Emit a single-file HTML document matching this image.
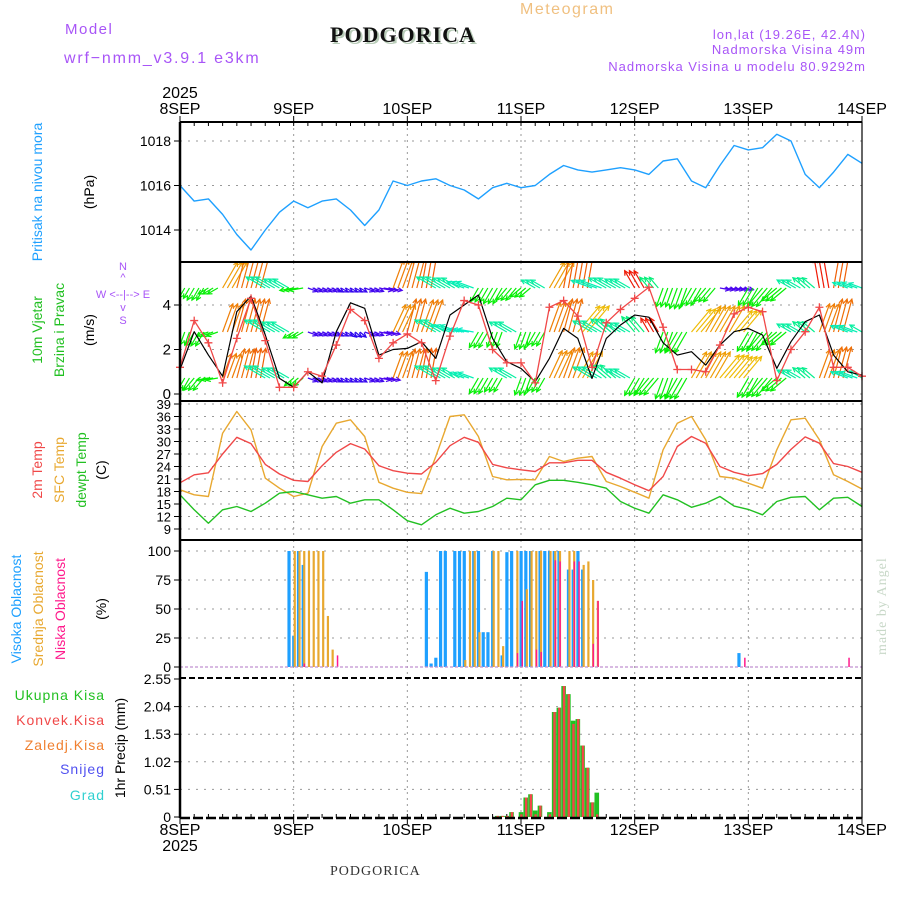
<!DOCTYPE html>
<html><head><meta charset="utf-8"><style>
html,body{margin:0;padding:0;background:#fff;}
svg{display:block;font-family:"Liberation Sans",sans-serif;}
</style></head><body>
<svg id="c" width="900" height="900" viewBox="0 0 900 900" xmlns="http://www.w3.org/2000/svg">
<g>
<text x="65" y="34" font-size="15" fill="#a855f7" letter-spacing="1.5">Model</text>
<text x="64" y="63" font-size="16" fill="#a855f7" letter-spacing="1.8">wrf−nmm_v3.9.1 e3km</text>
<text x="332" y="44" font-size="22" font-weight="bold" font-family="Liberation Serif,serif" fill="#b8ccb8" letter-spacing="1">PODGORICA</text>
<text x="330" y="42" font-size="22" font-weight="bold" font-family="Liberation Serif,serif" fill="#111" letter-spacing="1">PODGORICA</text>
<text x="520" y="14" font-size="16" fill="#f0c080" letter-spacing="1.5">Meteogram</text>
<text x="866" y="39" font-size="13" fill="#a855f7" text-anchor="end" letter-spacing="1">lon,lat (19.26E, 42.4N)</text>
<text x="866" y="54" font-size="13" fill="#a855f7" text-anchor="end" letter-spacing="1">Nadmorska Visina 49m</text>
<text x="866" y="71" font-size="13" fill="#a855f7" text-anchor="end" letter-spacing="1">Nadmorska Visina u modelu 80.9292m</text>
<text x="330" y="875" font-size="14" font-family="Liberation Serif,serif" fill="#333" letter-spacing="1">PODGORICA</text>
<text transform="translate(886,655) rotate(-90)" font-size="14" font-family="Liberation Serif,serif" fill="#c8d8c8" letter-spacing="1">made by Angel</text>
</g>
<g id="labels">
<text transform="translate(42,192) rotate(-90)" font-size="14" fill="#1ea0ff" text-anchor="middle">Pritisak na nivou mora</text>
<text transform="translate(94,192) rotate(-90)" font-size="14" fill="#000" text-anchor="middle">(hPa)</text>
<text transform="translate(42,330) rotate(-90)" font-size="14" fill="#22c022" text-anchor="middle">10m Vjetar</text>
<text transform="translate(64,330) rotate(-90)" font-size="14" fill="#22c022" text-anchor="middle">Brzina i Pravac</text>
<text transform="translate(94,330) rotate(-90)" font-size="14" fill="#000" text-anchor="middle">(m/s)</text>
<g font-size="11" fill="#a855f7" text-anchor="middle">
<text x="123" y="270">N</text><text x="123" y="281">^</text><text x="123" y="298">W   &lt;--|--&gt;   E</text><text x="123" y="311">v</text><text x="123" y="324">S</text>
</g>
<text transform="translate(42,470) rotate(-90)" font-size="14" fill="#f04848" text-anchor="middle">2m Temp</text>
<text transform="translate(64,470) rotate(-90)" font-size="14" fill="#e8a830" text-anchor="middle">SFC Temp</text>
<text transform="translate(86,470) rotate(-90)" font-size="14" fill="#22c022" text-anchor="middle">dewpt Temp</text>
<text transform="translate(106,470) rotate(-90)" font-size="14" fill="#000" text-anchor="middle">(C)</text>
<text transform="translate(21,609) rotate(-90)" font-size="14" fill="#1ea0ff" text-anchor="middle">Visoka Oblacnost</text>
<text transform="translate(43,609) rotate(-90)" font-size="14" fill="#e8a830" text-anchor="middle">Srednja Oblacnost</text>
<text transform="translate(65,609) rotate(-90)" font-size="14" fill="#ff1a8c" text-anchor="middle">Niska Oblacnost</text>
<text transform="translate(106,609) rotate(-90)" font-size="14" fill="#000" text-anchor="middle">(%)</text>
<g font-size="14" text-anchor="end" letter-spacing="1">
<text x="105" y="700" fill="#22c022">Ukupna  Kisa</text>
<text x="105" y="725" fill="#f04848">Konvek.Kisa</text>
<text x="105" y="750" fill="#f08030">Zaledj.Kisa</text>
<text x="105" y="774" fill="#5050f0">Snijeg</text>
<text x="105" y="800" fill="#30d0d0">Grad</text>
</g>
<text transform="translate(125,748) rotate(-90)" font-size="14" fill="#000" text-anchor="middle">1hr Precip (mm)</text>
</g>
</svg>
<script>
// ---- data (3-hourly, hours 0..144 from 8SEP 00) ----
const dayLabels = ["8SEP","9SEP","10SEP","11SEP","12SEP","13SEP","14SEP"];
const pressure = [1016.0,1015.3,1015.4,1014.7,1013.8,1013.1,1014.0,1014.8,1015.3,1015.0,1015.3,1015.4,1014.9,1014.2,1014.9,1016.2,1016.0,1016.2,1016.3,1016.0,1015.8,1015.4,1015.9,1016.1,1015.9,1016.0,1016.5,1016.9,1016.7,1016.6,1016.7,1016.8,1016.7,1016.5,1017.1,1017.2,1016.2,1015.9,1016.9,1017.8,1017.6,1017.7,1018.3,1018.0,1016.5,1015.9,1016.6,1017.4,1017.0];
const windSpeed = [1.1,2.8,1.75,0.8,3.7,4.4,2.65,0.7,0.3,1.0,0.5,2.8,4.1,3.85,1.75,2.0,2.05,2.35,1.6,3.55,4.0,4.45,2.5,1.45,1.15,0.55,1.6,2.95,2.5,0.7,2.5,3.1,3.55,3.45,2.3,1.75,1.9,1.3,2.2,2.8,2.95,2.65,1.15,2.35,3.25,3.55,1.75,1.0,0.85];
const windGust = [1.2,3.3,2.3,0.5,2.5,4.3,2.4,0.3,0.3,1.0,0.8,2.2,3.8,3.3,1.6,2.3,2.7,2.3,0.6,2.6,4.2,4.0,2.0,1.4,1.4,0.5,3.9,4.2,3.5,1.2,3.2,3.8,4.3,4.8,3.0,1.1,1.1,1.0,2.2,3.6,3.9,3.7,0.6,2.0,2.8,3.9,1.2,1.2,0.8];
const dir1 = [210,210,240,30,15,15,300,300,260,110,110,120,120,110,100,20,15,10,300,300,290,210,210,220,230,300,30,10,10,290,300,300,330,320,200,200,210,220,100,100,210,220,230,300,310,350,10,290,290];
const len1 = [12,14,12,30,40,40,22,18,14,10,10,8,8,10,14,30,40,40,22,20,18,16,18,16,14,16,30,40,40,22,20,18,20,14,20,22,20,18,10,10,20,24,20,16,16,30,40,16,14];
const dir2 = [200,210,250,20,15,15,300,300,240,110,110,120,130,110,100,25,15,20,300,290,280,210,200,300,200,210,20,15,40,300,310,300,320,330,200,210,40,30,30,40,210,220,230,300,310,20,15,290,300];
const len2 = [14,16,12,30,34,34,24,20,12,10,10,8,8,10,12,30,34,34,24,20,16,18,16,20,18,16,32,34,34,22,20,18,20,16,22,24,30,30,30,28,22,24,20,16,16,30,34,18,14];
const dir3 = [210,220,260,20,15,10,300,300,230,110,110,120,120,110,100,20,15,10,300,300,290,210,210,300,200,210,25,20,30,300,310,300,210,220,200,210,30,30,40,40,210,220,230,300,310,20,15,290,300];
const len3 = [14,16,12,26,30,30,24,20,12,10,10,8,8,10,12,28,30,30,24,20,16,18,16,20,18,16,30,32,30,22,20,18,20,22,22,24,30,30,30,28,22,24,20,16,16,30,32,18,14];
const temp2m = [20.1,22.0,22.5,27.0,31.0,29.5,24.5,22.2,20.7,20.4,24.2,27.4,29.5,28.2,24.2,23.0,22.4,22.2,25.0,29.0,31.0,29.8,24.5,23.7,23.2,22.8,24.9,24.9,25.5,25.5,22.6,21.2,19.6,18.2,21.6,28.8,31.2,29.6,24.0,22.6,21.8,22.3,24.5,28.1,31.1,29.6,24.7,24.0,22.6];
const tempSfc = [18.4,17.2,16.8,32.0,37.2,32.8,21.2,18.8,16.8,17.6,28.8,34.4,35.2,31.2,20.2,18.8,17.8,17.5,26.4,36.0,36.4,31.2,21.6,20.8,20.9,20.8,26.4,25.2,26.0,26.4,20.4,19.2,17.8,16.4,28.0,34.4,36.0,30.4,21.6,21.2,20.0,18.8,28.0,35.2,35.6,30.4,22.0,20.4,18.6];
const tempDew = [17.2,13.6,10.4,13.6,14.4,13.2,15.2,17.6,18.0,17.2,16.4,16.8,15.2,16.0,16.0,13.6,11.0,10.0,12.4,14.0,12.8,13.2,14.4,16.4,16.0,19.6,20.7,20.7,20.2,19.6,18.8,15.6,14.0,12.8,17.2,16.0,14.2,15.2,16.8,14.5,13.7,12.4,15.6,16.6,16.8,13.6,16.4,16.6,14.4];
// clouds (hourly, hour index / percent)
const highHours = [23,24,25,26,52,53,54,55,56,58,59,60,62,63,64,65,66,68,69,70,72,73,74,76,77,78,79,80,82,83,84,85,118];
const highVals  = [100,27,100,88,82,3,8,100,100,100,100,100,100,100,30,30,100,10,99,100,100,100,100,100,100,100,100,100,84,84,100,84,12];
const midHours = [24,25,26,27,28,29,30,31,32,60,61,62,63,66,67,68,71,73,74,75,76,78,79,80,82,83,85,86,87,88];
const midVals  = [100,100,100,100,100,100,100,44,15,6,100,100,30,100,100,18,100,67,100,100,100,100,100,100,100,100,88,91,75,57];
const lowHours = [26,33,71,72,75,76,79,80,83,84,87,88,119,141];
const lowVals  = [3,10,12,57,15,13,92,91,91,91,20,57,8,8];
// precipitation (hourly)
const precipHours = [67,68,69,70,72,73,74,75,76,78,79,80,81,82,83,84,85,86,87,88];
const precipTotal = [0.02,0.02,0.02,0.09,0.09,0.36,0.42,0.12,0.21,0.09,1.94,2.02,2.42,2.27,1.78,1.81,1.32,0.91,0.27,0.45];
const precipConv  = [0.02,0.02,0.02,0.09,0.05,0.36,0.42,0.05,0.21,0.05,1.94,2.02,2.42,2.27,1.72,1.81,1.32,0.91,0.27,0.05];

// ---- axes ----
const NS="http://www.w3.org/2000/svg";
const svg=document.getElementById('c');
const X0=180,X1=862,HOURS=144;
const x=h=>X0+h*(X1-X0)/HOURS;
const yP=p=>141+(1018-p)*22.25;
const yW=v=>394-v*22.25;
const yT=t=>404+(39-t)*4.167;
const yC=c=>667-c*1.16;
const yR=r=>817-r*(138/2.55);
function el(tag,attrs,parent){const e=document.createElementNS(NS,tag);for(const k in attrs)e.setAttribute(k,attrs[k]);(parent||svg).appendChild(e);return e;}
const panels=[[122,262],[262,401],[401,540],[540,678],[678,818]];

// grid
const grid=el('g',{});


function hgrid(yy){el('line',{x1:X0,x2:X1,y1:yy,y2:yy,stroke:'#999','stroke-dasharray':'2,6','stroke-width':1},grid);}
[1014,1016,1018].forEach(p=>hgrid(yP(p)));
[0,2,4].forEach(v=>hgrid(yW(v)));
for(let t=9;t<=39;t+=3)hgrid(yT(t));
[25,50,75,100].forEach(c=>hgrid(yC(c)));
[0.51,1.02,1.53,2.04].forEach(r=>hgrid(yR(r)));
panels.forEach(([a,b])=>{for(let d=1;d<6;d++){el('line',{x1:x(d*24),x2:x(d*24),y1:a,y2:b,stroke:'#999','stroke-dasharray':'2,4'},grid);}});

// ticks
const tk=el('g',{'font-size':14,fill:'#000','text-anchor':'end'});


function ytick(yy,lab,fs){el('line',{x1:X0-6,x2:X0,y1:yy,y2:yy,stroke:'#000'},tk);const t=el('text',{x:X0-9,y:yy+5,'font-size':fs||14},tk);t.textContent=lab;}
[1014,1016,1018].forEach(p=>ytick(yP(p),p));
[0,2,4].forEach(v=>ytick(yW(v),v,15));
for(let t=9;t<=39;t+=3)ytick(yT(t),t,13);
[0,25,50,75,100].forEach(c=>ytick(yC(c),c));
[0,0.51,1.02,1.53,2.04,2.55].forEach(r=>ytick(yR(r),r===0?'0':r.toFixed(2)));

// x labels
const xl=el('g',{'font-size':16,fill:'#000','text-anchor':'middle'});


dayLabels.forEach((d,i)=>{
 const t1=el('text',{x:x(i*24),y:114},xl);t1.textContent=d;
 const t2=el('text',{x:x(i*24),y:835},xl);t2.textContent=d;
 el('line',{x1:x(i*24),x2:x(i*24),y1:116,y2:122,stroke:'#000'},xl);
 el('line',{x1:x(i*24),x2:x(i*24),y1:818,y2:824,stroke:'#000'},xl);
});
[[98],[851]].forEach(([yy])=>{const t=el('text',{x:x(0),y:yy},xl);t.textContent='2025';});
for(let h=0;h<=HOURS;h+=3){el('line',{x1:x(h),x2:x(h),y1:814,y2:818,stroke:'#000'},xl);el('line',{x1:x(h),x2:x(h),y1:122,y2:126,stroke:'#000'},xl);}

function poly(arr,yf,color,name,w){
 const pts=arr.map((v,i)=>x(i*3).toFixed(1)+','+yf(v).toFixed(1)).join(' ');
 const p=el('polyline',{points:pts,fill:'none',stroke:color,'stroke-width':w||1.3,'stroke-linejoin':'round'});
 
 
 return p;
}
// pressure
poly(pressure,yP,'#1ea0ff','pressure-line',1.4);

// wind arrows (clipped)
const cp=el('clipPath',{id:'wc'});
el('rect',{x:X0,y:263,width:X1-X0,height:137},cp);
const wg=el('g',{'clip-path':'url(#wc)'});


function hueFor(d){d=((d%360)+360)%360;
 if(d<=60)return 15+d*0.8; if(d<=180)return 270-(d-60)*0.3; if(d<=260)return 120; if(d<=320)return 180-(d-260)*0.5; return 5;}
function arrows(dirs,lens,base,name){
 dirs.forEach((d,i)=>{for(let s=0;s<3;s++){const h=i*3+s;if(h>HOURS)break;
  const a=d*Math.PI/180,L=lens[i];const x0=x(h),y0=base;const x1=x0+L*Math.sin(a),y1=y0-L*Math.cos(a);
  const c=`hsl(${hueFor(d)},95%,48%)`;
  const g=el('g',{stroke:c,'stroke-width':1.2,fill:'none'},wg);
  
  
  el('line',{x1:x0,y1:y0,x2:x1,y2:y1},g);
  const b1=a+Math.PI*0.85,b2=a-Math.PI*0.85;
  el('polyline',{points:`${x1+5*Math.sin(b1)},${y1-5*Math.cos(b1)} ${x1},${y1} ${x1+5*Math.sin(b2)},${y1-5*Math.cos(b2)}`},g);
 }});
}
arrows(dir1,len1,288,'wind-arrow-upper');
arrows(dir2,len2,332,'wind-arrow-middle');
arrows(dir3,len3,378,'wind-arrow-lower');
poly(windSpeed,yW,'#000','wind-speed-line',1.2);
poly(windGust,yW,'#f04848','wind-gust-line',1.3);
const gm=el('g',{stroke:'#f04848','stroke-width':1.3});


windGust.forEach((v,i)=>{const cx=x(i*3),cy=yW(v);el('path',{d:`M${cx-4},${cy}h8M${cx},${cy-4}v8`},gm);});

// temperature
poly(tempSfc,yT,'#e8a830','sfc-temp-line',1.4);
poly(temp2m,yT,'#f04848','temp-2m-line',1.4);
poly(tempDew,yT,'#22c022','dewpoint-line',1.4);

// clouds
function bars(hours,vals,color,name,dx,w){
 const g=el('g',{fill:color});
 
 
 hours.forEach((h,i)=>{const r=el('rect',{x:x(h)+dx,y:yC(vals[i]),width:w,height:yC(0)-yC(vals[i])},g);
  
  });
}
bars(highHours,highVals,'#1ea0ff','high-cloud',-1.5,3.2);
bars(midHours,midVals,'#e8a830','mid-cloud',0,2.2);
bars(lowHours,lowVals,'#ff1a8c','low-cloud',0.5,1.5);
el('line',{x1:X0,x2:X1,y1:yC(0),y2:yC(0),stroke:'#c090d0','stroke-width':1.2,'stroke-dasharray':'3,2'});

// precip
const pg=el('g',{});


precipHours.forEach((h,i)=>{
 const g=el('rect',{x:x(h)-2.3,y:yR(precipTotal[i]),width:4.6,height:yR(0)-yR(precipTotal[i]),fill:'#22c022'},pg);
 
 
 const r=el('rect',{x:x(h)-0.8,y:yR(precipConv[i]),width:2.4,height:yR(0)-yR(precipConv[i]),fill:'#f04848'},pg);
 
 
});

// frame
const fr=el('g',{stroke:'#000',fill:'none'});


el('line',{x1:X0,x2:X0,y1:122,y2:818,'stroke-width':2.5},fr);
el('line',{x1:X1,x2:X1,y1:122,y2:818,'stroke-width':1.2},fr);
[122,262,401,540].forEach(yy=>el('line',{x1:X0,x2:X1,y1:yy,y2:yy,'stroke-width':2},fr));
el('line',{x1:X0,x2:X1,y1:678,y2:678,'stroke-width':2,'stroke-dasharray':'6,3'},fr);
el('line',{x1:X0,x2:X1,y1:818,y2:818,'stroke-width':2.5,'stroke-dasharray':'10,3'},fr);
</script>
</body></html>
